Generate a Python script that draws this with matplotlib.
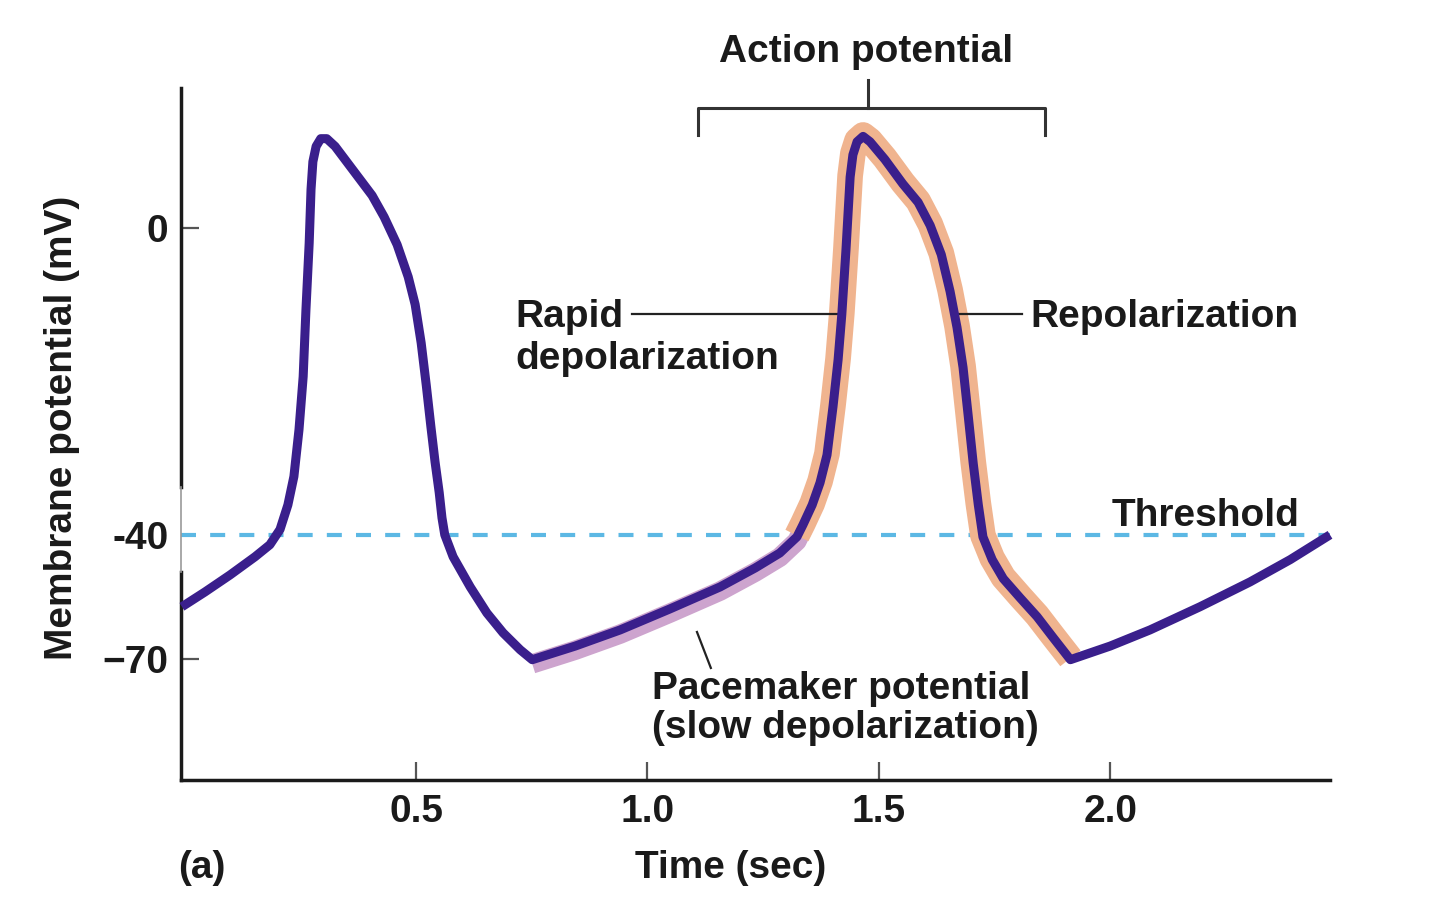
import numpy as np
import matplotlib
matplotlib.use("Agg")
import matplotlib.pyplot as plt
from matplotlib.transforms import offset_copy

plt.rcParams['font.family'] = ['Liberation Sans', 'DejaVu Sans']
plt.rcParams['font.weight'] = 'bold'
plt.rcParams['axes.labelweight'] = 'bold'

# membrane potential trace
time_s = [-0.006, 0.044, 0.098, 0.152, 0.184, 0.206, 0.223, 0.236, 0.247, 0.256,
          0.262, 0.269, 0.273, 0.277, 0.284, 0.294, 0.307, 0.325, 0.375, 0.405,
          0.431, 0.459, 0.483, 0.498, 0.511, 0.522, 0.532, 0.541, 0.550, 0.556,
          0.562, 0.580, 0.617, 0.653, 0.688, 0.725, 0.751,
          0.844, 0.941, 1.049, 1.157, 1.233, 1.286, 1.323,
          1.336, 1.356, 1.373, 1.388, 1.401, 1.412, 1.420, 1.429, 1.438, 1.444,
          1.453, 1.466, 1.481, 1.513, 1.552, 1.585, 1.611, 1.635, 1.654, 1.669,
          1.682, 1.693, 1.704, 1.715, 1.725, 1.745, 1.769, 1.805, 1.842, 1.877,
          1.914, 2.000, 2.086, 2.194, 2.302, 2.389, 2.475]
potential_mv = [-57.4, -53.8, -49.7, -45.3, -42.4, -39.3, -36.1, -32.4, -26.3, -19.4,
                -10.7, -2.0, 5.0, 8.6, 10.6, 11.6, 11.6, 10.6, 6.6, 4.2,
                1.4, -2.2, -6.4, -10.0, -15.0, -20.5, -25.9, -30.5, -34.5, -37.8,
                -40.0, -45.3, -52.6, -58.9, -63.7, -67.8, -70.2,
                -66.9, -63.0, -57.9, -52.6, -48.0, -44.4, -40.5,
                -38.7, -36.1, -33.2, -29.6, -23.3, -17.2, -11.3, -2.9, 6.6, 9.5,
                11.2, 11.9, 11.2, 8.9, 5.7, 3.3, 0.3, -3.5, -8.3, -13.0,
                -18.2, -24.4, -30.7, -36.1, -40.5, -46.0, -50.6, -55.2, -59.8, -64.9,
                -70.2, -66.9, -63.0, -57.4, -51.4, -46.0, -40.0]

threshold_mv = -40
pacemaker_window = (0.751, 1.336)
action_window = (1.30, 1.914)

y_ticks = [-70, -40, 0]
y_ticklabels = ['\u221270', '-40', '0']
x_ticks = [0.5, 1.0, 1.5, 2.0]
x_ticklabels = ['0.5', '1.0', '1.5', '2.0']

t = np.array(time_s)
v = np.array(potential_mv)


# the vertical axis is stretched above threshold
def forward(mv):
    mv = np.asarray(mv, dtype=float)
    return np.where(mv < -40, (mv + 70) * 4.133, 124 + (mv + 40) * 7.675)


def inverse(u):
    u = np.asarray(u, dtype=float)
    return np.where(u < 124, u / 4.133 - 70, (u - 124) / 7.675 - 40)


fig = plt.figure(figsize=(14.4, 9.1), dpi=100)
ax = fig.add_axes([181 / 1440, 130 / 910, 1149 / 1440, 692 / 910])
ax.set_yscale('function', functions=(forward, inverse))
ax.set_xlim(-0.008, 2.475)
ax.set_ylim(-99.3, 18.2)

line_col = '#3a1f8c'
ink = '#1a1a1a'

ax.axhline(threshold_mv, color='#5cb8e4', lw=3, dashes=(3.6, 3.4), zorder=1)

pm = (t >= pacemaker_window[0]) & (t <= pacemaker_window[1])
ap = (t >= action_window[0]) & (t <= action_window[1])
ax.plot(t[pm], v[pm], color='#cda4ce', lw=14, solid_capstyle='butt',
        transform=offset_copy(ax.transData, fig=fig, y=-3, units='points'), zorder=2)
ax.plot(t[ap], v[ap], color='#f0b48f', lw=18.5, solid_capstyle='butt',
        solid_joinstyle='round', zorder=2,
        transform=offset_copy(ax.transData, fig=fig, y=1, units='points'))
ax.plot(t, v, color=line_col, lw=6.5, solid_joinstyle='round',
        solid_capstyle='butt', zorder=3, clip_on=False)

# axes styling
for s in ['top', 'right', 'left']:
    ax.spines[s].set_visible(False)
ax.spines['bottom'].set_linewidth(2.5)
ax.spines['bottom'].set_color(ink)
ax.plot([0, 0], [0.4234, 1], color=ink, lw=2.5, transform=ax.transAxes, clip_on=False)
ax.plot([0, 0], [0, 0.3006], color=ink, lw=2.5, transform=ax.transAxes, clip_on=False)
ax.plot([0, 0], [0.3006, 0.4234], color='#999999', lw=1.2, transform=ax.transAxes, clip_on=False)

ax.set_yticks(y_ticks)
ax.set_yticklabels(y_ticklabels)
ax.set_xticks(x_ticks)
ax.set_xticklabels(x_ticklabels)
ax.tick_params(direction='in', length=13, width=1.6, color='#555555',
               labelsize=28, labelcolor=ink)
ax.tick_params(axis='y', pad=9)
ax.tick_params(axis='x', pad=10)
ax.yaxis.get_major_ticks()[1].tick1line.set_visible(False)
ax.minorticks_off()

ax.set_xlabel('Time (sec)', fontsize=28, fontweight='bold', color=ink, va='center')
ax.xaxis.set_label_coords(0.4787, -0.127)
ax.set_ylabel('Membrane potential (mV)', fontsize=28, fontweight='bold', color=ink, va='center')
ax.yaxis.set_label_coords(-0.1036, 0.5087)

fig.text(178 / 1440, 1 - 868 / 910, '(a)', fontsize=28, fontweight='bold',
         color=ink, va='center', ha='left')

# annotations
ax.text(1.473, 22.9, 'Action potential', fontsize=28, color=ink, ha='center', va='center')
ax.plot([1.110, 1.110, 1.859, 1.859], [12.1, 15.6, 15.6, 12.1], color='#333333',
        lw=2.2, clip_on=False)
ax.plot([1.477, 1.477], [15.6, 19.3], color='#333333', lw=2.2, clip_on=False)

ax.text(0.714, -14.4, 'Rapid\ndepolarization', fontsize=28, color=ink,
        ha='left', va='center', linespacing=1.2)
ax.plot([0.967, 1.417], [-11.3, -11.3], color='#222222', lw=1.6)

ax.text(1.827, -12.9, 'Repolarization', fontsize=28, color=ink, ha='left', va='baseline')
ax.plot([1.665, 1.810], [-11.3, -11.3], color='#222222', lw=1.6)

ax.text(2.004, -38.9, 'Threshold', fontsize=28, color=ink, ha='left', va='baseline')

ax.text(1.010, -82.0, 'Pacemaker potential\n(slow depolarization)', fontsize=28,
        color=ink, ha='left', va='center', linespacing=1.1)
ax.plot([1.107, 1.137], [-63.5, -72.2], color='#222222', lw=1.6)

fig.savefig('out.png', dpi=100, facecolor='white')
